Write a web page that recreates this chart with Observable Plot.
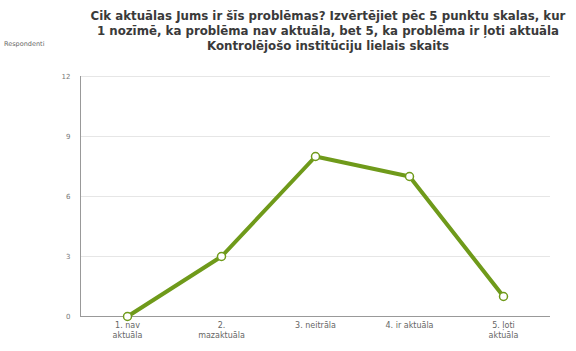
<!DOCTYPE html>
<html>
<head>
<meta charset="utf-8">
<script src="https://cdn.jsdelivr.net/npm/d3@7"></script>
<script src="https://cdn.jsdelivr.net/npm/@observablehq/plot@0.6"></script>
<style>
  body { margin: 0; background: #fff; font-family: "DejaVu Sans", sans-serif; }
  #wrap { position: relative; width: 576px; height: 351px; }
  #title { position: absolute; left: 48px; top: 9px; width: 560px; text-align: center;
           font: bold 11.8px "DejaVu Sans", sans-serif; color: #3a3a3a; line-height: 15px; white-space: nowrap; }
  #ylab { position: absolute; left: 4px; top: 40px; font: 6.5px "DejaVu Sans", sans-serif; color: #666; }
</style>
</head>
<body>
<div id="wrap">
  <div id="title">Cik aktuālas Jums ir šīs problēmas? Izvērtējiet pēc 5 punktu skalas, kur<br>1 nozīmē, ka problēma nav aktuāla, bet 5, ka problēma ir ļoti aktuāla<br>Kontrolējošo institūciju lielais skaits</div>
  <div id="ylab">Respondenti</div>
</div>
<script>
const categories = ["1. nav\naktuāla", "2.\nmazaktuāla", "3. neitrāla", "4. ir aktuāla", "5. ļoti\naktuāla"];
const values = [0, 3, 8, 7, 1];
const yTicks = [0, 3, 6, 9, 12];

const data = categories.map((c, i) => ({cat: c, v: values[i]}));

const chart = Plot.plot({
  width: 576,
  height: 351,
  marginTop: 76,
  marginBottom: 35,
  marginLeft: 80,
  marginRight: 26,
  style: {fontFamily: "DejaVu Sans, sans-serif", fontSize: "8px", color: "#666"},
  x: {type: "point", domain: categories, padding: 0.5, label: null},
  y: {domain: [0, 12], ticks: yTicks, label: null},
  marks: [
    Plot.gridY(yTicks.filter(d => d > 0), {stroke: "#e6e6e6", strokeOpacity: 1, strokeWidth: 1}),
    Plot.axisY({ticks: yTicks, tickSize: 0, tickPadding: 10, fontSize: 7, fill: "#777", label: null}),
    Plot.axisX({tickSize: 0, tickPadding: 5, fontSize: 8, fill: "#666", lineHeight: 1.2, label: null}),
    Plot.ruleY([0], {stroke: "#999", strokeWidth: 1}),
    Plot.frame({anchor: "left", stroke: "#999"}),
    Plot.line(data, {x: "cat", y: "v", stroke: "#6f9a1a", strokeWidth: 4, strokeLinejoin: "round"}),
    Plot.dot(data, {x: "cat", y: "v", r: 4, fill: "#fff", stroke: "#6f9a1a", strokeWidth: 1.5})
  ]
});
document.getElementById("wrap").prepend(chart);
chart.style.position = "absolute";
chart.style.left = "0";
chart.style.top = "0";
</script>
</body>
</html>
